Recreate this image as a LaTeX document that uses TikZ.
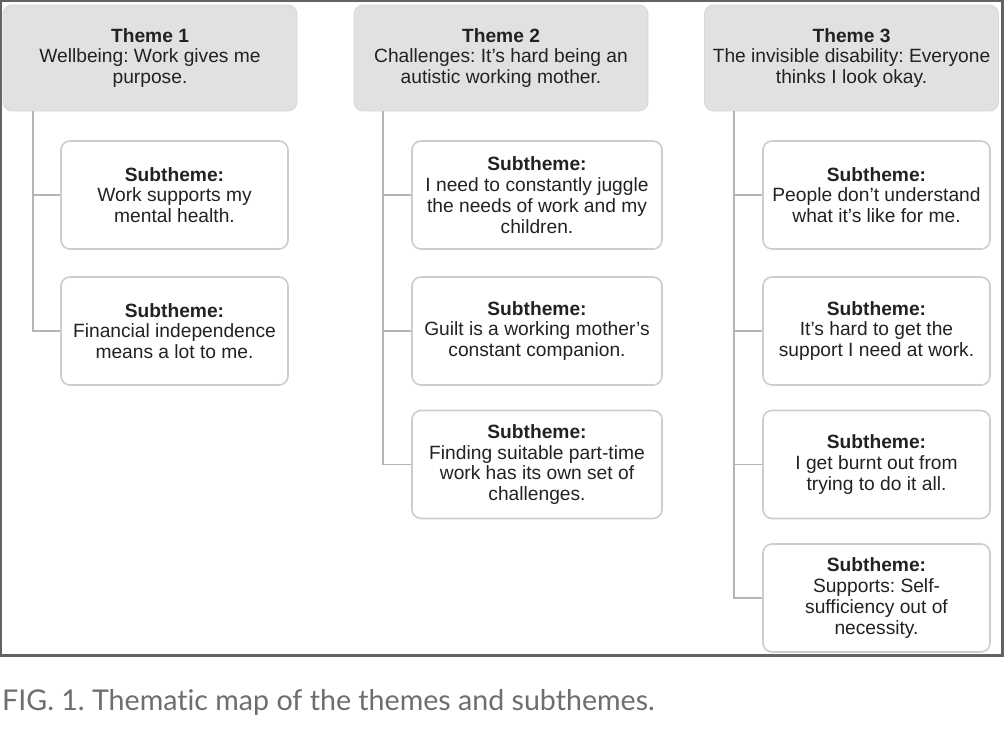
\documentclass[tikz,border=0pt]{standalone}
\usepackage{fontspec}
\setmainfont{Liberation Sans}
\newfontfamily\capfont[Ligatures=NoCommon]{Lato}
\frenchspacing
\definecolor{framec}{HTML}{636363}
\definecolor{themefill}{HTML}{E1E1E1}
\definecolor{themeline}{HTML}{D8D8D8}
\definecolor{subborder}{HTML}{CDCDCD}
\definecolor{connc}{HTML}{B4B4B4}
\definecolor{textc}{HTML}{222222}
\definecolor{capc}{HTML}{6E6E6E}
\tikzset{
  themebox/.style={fill=themefill, draw=themeline, line width=0.8pt, rounded corners=9pt,
    minimum width=294pt, minimum height=106pt, align=center, text=textc,
    font=\fontsize{19.2}{20.8}\selectfont, inner sep=0pt},
  subbox/.style={fill=white, draw=subborder, line width=1.6pt, rounded corners=9pt,
    minimum height=108pt, align=center, text=textc,
    font=\fontsize{19.2}{20.8}\selectfont, inner sep=0pt},
  conn/.style={draw=connc, line width=1.6pt},
}
\begin{document}
\begin{tikzpicture}[x=1pt,y=-1pt]
\useasboundingbox (0,0) rectangle (1006,730);
\fill[white] (0,0) rectangle (1006,730);
% frame
\draw[framec, line width=2.2pt] (1.1,1.1) rectangle (1002.5,655.5);

% themes
\node[themebox] (t1) at (150,58) {\textbf{Theme 1}\\Wellbeing: Work gives me\\purpose.};
\node[themebox] (t2) at (501,58) {\textbf{Theme 2}\\Challenges: It’s hard being an\\autistic working mother.};
\node[themebox] (t3) at (851.5,58) {\textbf{Theme 3}\\The invisible disability: Everyone\\thinks I look okay.};

% column 1
\node[subbox, minimum width=227pt] (s11) at (174.5,195) {\textbf{Subtheme:}\\Work supports my\\mental health.};
\node[subbox, minimum width=227pt] (s12) at (174.5,331) {\textbf{Subtheme:}\\Financial independence\\means a lot to me.};
% column 2
\node[subbox, minimum width=250pt] (s21) at (537,195) {\textbf{Subtheme:}\\I need to constantly juggle\\the needs of work and my\\children.};
\node[subbox, minimum width=250pt] (s22) at (537,331) {\textbf{Subtheme:}\\Guilt is a working mother’s\\constant companion.};
\node[subbox, minimum width=250pt] (s23) at (537,464.5) {\textbf{Subtheme:}\\Finding suitable part-time\\work has its own set of\\challenges.};
% column 3
\node[subbox, minimum width=227pt] (s31) at (876.5,195) {\textbf{Subtheme:}\\People don’t understand\\what it’s like for me.};
\node[subbox, minimum width=227pt] (s32) at (876.5,331) {\textbf{Subtheme:}\\It’s hard to get the\\support I need at work.};
\node[subbox, minimum width=227pt] (s33) at (876.5,464.5) {\textbf{Subtheme:}\\I get burnt out from\\trying to do it all.};
\node[subbox, minimum width=227pt] (s34) at (876.5,598) {\textbf{Subtheme:}\\Supports: Self-\\sufficiency out of\\necessity.};

% connectors
\coordinate (c1) at (33,111);
\coordinate (c2) at (383,111);
\coordinate (c3) at (734,111);
\draw[conn] (c1) |- (s12.west);
\draw[conn] (s11.west) -- (s11.west -| c1);
\draw[conn] (c2) |- (s23.west);
\draw[conn] (s21.west) -- (s21.west -| c2);
\draw[conn] (s22.west) -- (s22.west -| c2);
\draw[conn] (c3) |- (s34.west);
\draw[conn] (s31.west) -- (s31.west -| c3);
\draw[conn] (s32.west) -- (s32.west -| c3);
\draw[conn] (s33.west) -- (s33.west -| c3);

% caption
\node[anchor=base west, inner sep=0pt, text=capc, font=\capfont\fontsize{28.6}{31}\selectfont] (cap) at (2,710.5) {FIG. 1. Thematic map of the themes and subthemes.};
\end{tikzpicture}
\end{document}
